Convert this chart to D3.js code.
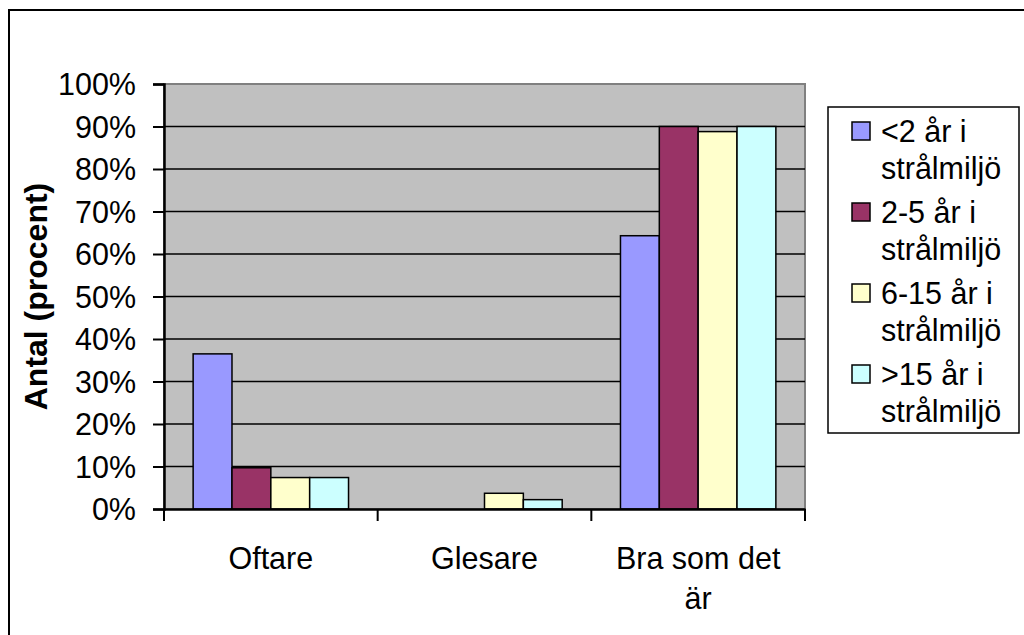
<!DOCTYPE html>
<html>
<head>
<meta charset="utf-8">
<script src="https://cdn.jsdelivr.net/npm/d3@7"></script>
<style>
  body { margin: 0; background: #fff; }
  svg text { font-family: "Liberation Sans", Arial, sans-serif; fill: #000; }
</style>
</head>
<body>
<svg id="chart" width="1024" height="635"></svg>
<script>
const categories = ["Oftare", "Glesare", "Bra som det är"];
const series = ["<2 år i strålmiljö", "2-5 år i strålmiljö", "6-15 år i strålmiljö", ">15 år i strålmiljö"];
const colors = ["#9999ff", "#993366", "#ffffcc", "#ccffff"];
// values per series, in category order (share of answers)
const under2 = [0.365, 0, 0.643];
const from2to5 = [0.097, 0, 0.90];
const from6to15 = [0.074, 0.037, 0.888];
const over15 = [0.074, 0.022, 0.90];
const yTicks = [0, 0.1, 0.2, 0.3, 0.4, 0.5, 0.6, 0.7, 0.8, 0.9, 1.0];

const values = [under2, from2to5, from6to15, over15];
const width = 1024, height = 635;
const margin = {top: 84, right: 219, bottom: 126, left: 164};
const fs = 30.5;

const svg = d3.select("#chart");

// outer frame (runs off the bottom/right edge like in the original)
svg.append("rect")
    .attr("x", 9).attr("y", 10)
    .attr("width", 1040).attr("height", 660)
    .attr("fill", "none").attr("stroke", "#000").attr("stroke-width", 2);

const x = d3.scaleBand()
    .domain(categories)
    .range([margin.left, width - margin.right])
    .paddingInner(0).paddingOuter(0);

const bw = x.bandwidth();
const x1 = d3.scaleBand()
    .domain(series)
    .range([bw * 0.75 / 5.5, bw - bw * 0.75 / 5.5]);

const y = d3.scaleLinear()
    .domain([0, 1])
    .range([height - margin.bottom, margin.top]);

// plot background
svg.append("rect")
    .attr("x", x.range()[0]).attr("y", y(1))
    .attr("width", x.range()[1] - x.range()[0])
    .attr("height", y(0) - y(1))
    .attr("fill", "#c0c0c0")
    .attr("stroke", "#808080").attr("stroke-width", 2);

// gridlines
svg.append("g")
    .selectAll("line")
    .data(yTicks.filter(d => d > 0 && d < 1))
    .enter().append("line")
    .attr("x1", x.range()[0]).attr("x2", x.range()[1])
    .attr("y1", d => y(d)).attr("y2", d => y(d))
    .attr("stroke", "#000").attr("stroke-width", 1.5);

// bars
const groups = svg.append("g")
    .selectAll("g")
    .data(values)
    .enter().append("g")
    .attr("fill", (d, i) => colors[i]);

groups.selectAll("rect")
    .data((d, i) => d.map((v, j) => ({v: v, cat: categories[j], s: series[i]})))
    .enter().append("rect")
    .filter(d => d.v > 0)
    .attr("x", d => x(d.cat) + x1(d.s))
    .attr("y", d => y(d.v))
    .attr("width", x1.bandwidth())
    .attr("height", d => y(0) - y(d.v))
    .attr("stroke", "#000").attr("stroke-width", 1.5);

// y axis
const yAxis = svg.append("g")
    .attr("transform", `translate(${margin.left},0)`)
    .call(d3.axisLeft(y).tickValues(yTicks).tickFormat(d3.format(".0%")).tickSizeOuter(0).tickSize(11).tickPadding(17));
yAxis.select(".domain").attr("stroke", "#000").attr("stroke-width", 2.5);
yAxis.selectAll(".tick line").attr("stroke", "#000").attr("stroke-width", 2);
yAxis.selectAll(".tick text").attr("font-size", fs).attr("dy", "0.36em");

// x axis
const xAxis = svg.append("g")
    .attr("transform", `translate(0,${y(0)})`)
    .call(d3.axisBottom(x).tickSize(0).tickSizeOuter(0).tickPadding(0).tickFormat(""));
xAxis.select(".domain").attr("stroke", "#000").attr("stroke-width", 2.5);
xAxis.selectAll(".tick").remove();

// category boundary ticks
xAxis.selectAll(".cat-tick")
    .data(categories.concat([null]))
    .enter().append("line")
    .attr("x1", (d, i) => x.range()[0] + i * bw)
    .attr("x2", (d, i) => x.range()[0] + i * bw)
    .attr("y1", 0).attr("y2", 12)
    .attr("stroke", "#000").attr("stroke-width", 2);

function wrap(sel, maxW, lineH) {
    sel.each(function() {
        const t = d3.select(this);
        const words = t.text().split(" ");
        const xPos = t.attr("x");
        t.text(null);
        let line = [];
        let tspan = t.append("tspan").attr("x", xPos);
        words.forEach(w => {
            line.push(w);
            tspan.text(line.join(" "));
            if (tspan.node().getComputedTextLength() > maxW && line.length > 1) {
                line.pop();
                tspan.text(line.join(" "));
                line = [w];
                tspan = t.append("tspan").attr("x", xPos).attr("dy", lineH).text(w);
            }
        });
    });
}

// category labels
svg.append("g")
    .selectAll("text")
    .data(categories)
    .enter().append("text")
    .attr("x", d => x(d) + bw / 2)
    .attr("y", 569)
    .attr("text-anchor", "middle")
    .attr("font-size", fs)
    .text(d => d)
    .call(wrap, 190, 40);

// y axis title
svg.append("text")
    .attr("transform", `translate(47,${(y(0) + y(1)) / 2}) rotate(-90)`)
    .attr("text-anchor", "middle")
    .attr("font-size", 32)
    .attr("font-weight", "bold")
    .text("Antal (procent)");

// legend
const legend = svg.append("g");
legend.append("rect")
    .attr("x", 828).attr("y", 107)
    .attr("width", 191).attr("height", 326)
    .attr("fill", "#fff").attr("stroke", "#000").attr("stroke-width", 1.5);

const items = legend.selectAll(".item")
    .data(series)
    .enter().append("g")
    .attr("transform", (d, i) => `translate(0,${142 + i * 81})`);

items.append("rect")
    .attr("x", 852).attr("y", -20)
    .attr("width", 18).attr("height", 18)
    .attr("fill", (d, i) => colors[i])
    .attr("stroke", "#000").attr("stroke-width", 1.5);

items.append("text")
    .attr("x", 881).attr("y", 0)
    .attr("font-size", fs)
    .text(d => d)
    .call(wrap, 130, 37);
</script>
</body>
</html>
